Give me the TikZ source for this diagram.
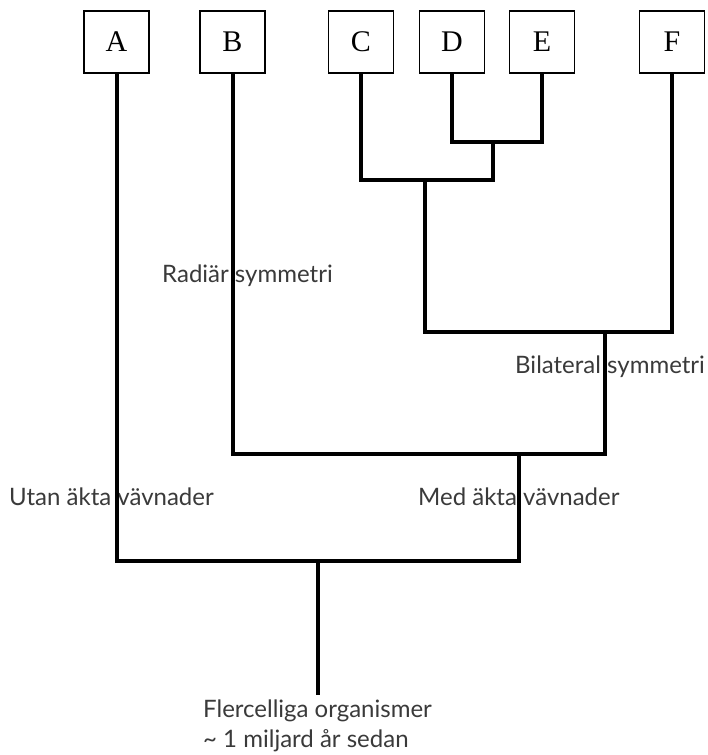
\documentclass[tikz,border=0pt]{standalone}
\usepackage{fontspec}
\setmainfont{Liberation Serif}
\newfontfamily\labfont{Lato}
\definecolor{labgray}{HTML}{3A3A3A}
\begin{document}
\begin{tikzpicture}[x=1pt,y=-1pt,
  taxon/.style={draw, line width=1.3pt, minimum width=65pt, minimum height=62pt, inner sep=0pt, font=\fontsize{30}{30}\selectfont},
  branch/.style={line width=4pt, line join=miter},
  lab/.style={anchor=base west, inner sep=0pt, text=labgray, font=\labfont\fontsize{24}{24}\selectfont}]
\useasboundingbox (0,0) rectangle (708,755);
% taxa
\node[taxon] (A) at (116.5,42) {A};
\node[taxon] (B) at (232.5,42) {B};
\node[taxon] (C) at (361,42) {C};
\node[taxon] (D) at (452,42) {D};
\node[taxon] (E) at (542,42) {E};
\node[taxon] (F) at (672,42) {F};
% labels
\node[lab] (rad) at (162,282) {Radiär symmetri};
\node[lab] (bil) at (515,373) {Bilateral symmetri};
\node[lab] (utan) at (9,505) {Utan äkta vävnader};
\node[lab] (med) at (418,505) {Med äkta vävnader};
\node[lab] (fler) at (203,717) {Flercelliga organismer};
\node[lab] (tid) at (203,747) {\textasciitilde\ 1 miljard år sedan};
% junctions
\coordinate (j1) at (493,142);
\coordinate (j2) at (425,180);
\coordinate (j3) at (605,332);
\coordinate (j4) at (519,454);
\coordinate (j5) at (318,561);
\coordinate (root) at (318,695);
% branches
\draw[branch] (D.south) |- (j1) -| (E.south);
\draw[branch] (C.south) |- (j2) -| (j1);
\draw[branch] (j2) |- (j3) -| (F.south);
\draw[branch] (B.south) |- (j4) -| (j3);
\draw[branch] (A.south) |- (j5) -| (j4);
\draw[branch] (j5) -- (root);
\end{tikzpicture}
\end{document}
